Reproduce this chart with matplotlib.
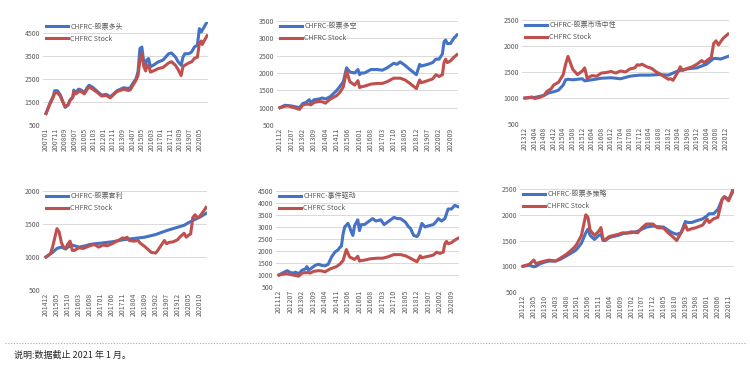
"""Six CHFRC hedge-fund index panels vs CHFRC Stock, 2x3 grid, with a note at the bottom."""

import matplotlib

matplotlib.use("Agg")
import matplotlib.pyplot as plt
from matplotlib.lines import Line2D

plt.rcParams["font.family"] = ["Noto Sans CJK SC", "DejaVu Sans"]

BLUE = "#4472C4"
RED = "#C0504D"
GRID = "#D9D9D9"
TEXT = "#595959"

# ---- panel 1: 股票多头, monthly from 200701 (months are offsets from the start) ----
long_start = "200701"
long_n = 169
long_ticks = ["200701", "200711", "200809", "200907", "201005", "201103", "201201", "201211",
              "201309", "201407", "201505", "201603", "201701", "201711", "201809", "201907", "202005"]
long_months = [0, 4, 8, 9, 12, 15, 17, 20, 23, 25, 28, 29, 31, 34, 37, 40, 43, 45, 49, 54, 58,
               63, 67, 70, 74, 77, 81, 86, 88, 91, 94, 96, 98, 100, 102, 104, 105, 107, 109,
               112, 117, 122, 128, 131, 135, 138, 141, 143, 145, 149, 152, 155, 158, 160, 162,
               163, 165, 168]
long_fund = [1000, 1440, 1800, 1990, 1990, 1800, 1580, 1265, 1370, 1580, 1730, 2015, 1900,
             2060, 2015, 1900, 2130, 2230, 2130, 1944, 1800, 1830, 1730, 1830, 1990, 2045, 2117,
             2090, 2130, 2330, 2520, 2810, 3820, 3890, 3240, 3100, 3320, 3390, 3030, 3100, 3240,
             3320, 3600, 3630, 3460, 3240, 3100, 3460, 3600, 3600, 3680, 3900, 3970, 4690, 4540,
             4620, 4760, 4980]
long_stock = [1000, 1400, 1750, 1900, 1900, 1750, 1550, 1300, 1380, 1560, 1700, 1950, 1850,
              1950, 1950, 1850, 2050, 2150, 2050, 1900, 1760, 1780, 1680, 1800, 1950, 2000, 2050,
              2000, 2030, 2250, 2450, 2650, 3300, 3600, 3050, 2850, 3050, 3100, 2800, 2850, 2950,
              3000, 3200, 3250, 3100, 2900, 2650, 3050, 3100, 3200, 3250, 3400, 3450, 4050, 4150,
              4000, 4150, 4380]

# ---- panel 2 and 5: 股票多空 / 事件驱动, monthly from 201112 ----
ls_start = "201112"
ls_n = 110
ls_ticks = ["201112", "201207", "201302", "201309", "201404", "201411", "201506", "201601",
            "201608", "201703", "201710", "201805", "201812", "201907", "202002", "202009"]
ls_months = [0, 3, 5, 7, 10, 12, 14, 16, 18, 19, 21, 24, 26, 28, 31, 35, 37, 39, 41, 43, 46,
             48, 49, 50, 52, 56, 60, 63, 66, 70, 72, 74, 77, 80, 84, 86, 87, 91, 94, 96, 98,
             100, 101, 102, 103, 105, 107, 109]
ls_fund = [1000, 1070, 1060, 1050, 1020, 1000, 1120, 1150, 1230, 1150, 1230, 1250, 1280, 1250,
           1320, 1500, 1620, 1750, 2150, 2030, 2000, 2100, 1950, 2000, 2000, 2100, 2100, 2080,
           2150, 2280, 2250, 2320, 2220, 2100, 1950, 2250, 2200, 2250, 2300, 2400, 2400, 2550,
           2900, 2950, 2850, 2850, 3000, 3100]
stock_2011 = [1000, 1040, 1050, 1020, 980, 950, 1080, 1100, 1100, 1080, 1150, 1180, 1170, 1130,
              1250, 1350, 1450, 1600, 2060, 1750, 1650, 1780, 1580, 1600, 1620, 1680, 1700, 1700,
              1750, 1850, 1850, 1850, 1800, 1700, 1550, 1800, 1720, 1780, 1830, 1950, 1900, 1950,
              2300, 2400, 2300, 2350, 2450, 2530]

ed_months = [0, 2, 5, 7, 9, 10, 12, 14, 16, 17, 18, 20, 22, 24, 26, 28, 30, 32, 34, 36, 37, 38,
             39, 40, 42, 43, 44, 45, 46, 48, 49, 50, 52, 55, 57, 59, 62, 64, 66, 70, 72, 74, 77,
             79, 80, 82, 84, 85, 87, 89, 91, 94, 96, 97, 99, 101, 103, 105, 107, 109]
ed_fund = [1000, 1080, 1180, 1100, 1080, 1120, 1050, 1200, 1250, 1350, 1200, 1300, 1400, 1450,
           1400, 1380, 1450, 1750, 1950, 2050, 2150, 2200, 2700, 3000, 3150, 3000, 2800, 2650,
           3050, 3300, 2850, 3100, 3100, 3250, 3350, 3250, 3300, 3100, 3200, 3400, 3350, 3350,
           3200, 3000, 2950, 2650, 2600, 2700, 3150, 3000, 3050, 3100, 3250, 3350, 3250, 3350,
           3750, 3750, 3900, 3850]

# ---- panel 3: 股票市场中性, monthly from 201312 ----
mn_start = "201312"
mn_n = 86
mn_ticks = ["201312", "201404", "201408", "201412", "201504", "201508", "201512", "201604",
            "201608", "201612", "201704", "201708", "201712", "201804", "201808", "201812",
            "201904", "201908", "201912", "202004", "202008", "202012"]
mn_fund_months = [0, 4, 8, 10, 12, 14, 16, 17, 18, 20, 24, 25, 28, 32, 36, 40, 44, 48, 52, 56,
                  60, 64, 68, 72, 76, 79, 80, 82, 85]
mn_fund = [1000, 1010, 1050, 1100, 1120, 1150, 1250, 1350, 1360, 1350, 1370, 1330, 1350, 1380,
           1390, 1370, 1420, 1440, 1440, 1450, 1440, 1520, 1560, 1580, 1650, 1760, 1760, 1750,
           1800]
mn_stock_months = [0, 3, 4, 6, 8, 9, 11, 12, 14, 16, 17, 18, 20, 22, 24, 25, 26, 28, 30, 32,
                   34, 36, 38, 40, 42, 44, 46, 47, 48, 49, 51, 53, 55, 57, 60, 61, 62, 64, 65,
                   66, 68, 70, 72, 74, 75, 77, 78, 79, 80, 81, 83, 85]
mn_stock = [1000, 1020, 990, 1010, 1050, 1120, 1180, 1250, 1300, 1450, 1650, 1800, 1550, 1450,
            1520, 1580, 1380, 1430, 1420, 1480, 1490, 1510, 1480, 1520, 1500, 1560, 1580, 1640,
            1630, 1650, 1600, 1570, 1500, 1450, 1360, 1370, 1340, 1500, 1600, 1530, 1570, 1600,
            1650, 1720, 1680, 1750, 1780, 2050, 2100, 2020, 2150, 2230]

# ---- panel 4: 股票套利, monthly from 201412 ----
arb_start = "201412"
arb_n = 74
arb_ticks = ["201412", "201505", "201510", "201603", "201608", "201701", "201706", "201711",
             "201804", "201809", "201902", "201907", "201912", "202005", "202010"]
arb_fund_months = [0, 3, 5, 7, 9, 10, 12, 15, 18, 20, 22, 25, 30, 35, 40, 45, 50, 55, 60, 63,
                   65, 68, 70, 73]
arb_fund = [1000, 1070, 1130, 1150, 1120, 1150, 1180, 1150, 1170, 1190, 1200, 1210, 1230, 1260,
            1280, 1300, 1340, 1400, 1450, 1480, 1520, 1570, 1600, 1660]
arb_stock_months = [0, 2, 3, 5, 6, 7, 8, 9, 10, 11, 12, 13, 15, 17, 20, 22, 24, 26, 28, 30, 33,
                    35, 36, 37, 38, 40, 42, 43, 45, 47, 48, 50, 51, 54, 55, 56, 58, 60, 61, 63,
                    64, 65, 66, 67, 68, 69, 70, 72, 73]
arb_stock = [1000, 1050, 1150, 1430, 1380, 1220, 1150, 1130, 1200, 1240, 1100, 1100, 1140, 1130,
             1170, 1190, 1150, 1180, 1170, 1200, 1250, 1290, 1280, 1300, 1250, 1240, 1250, 1210,
             1160, 1100, 1070, 1060, 1100, 1250, 1200, 1220, 1230, 1260, 1300, 1360, 1300, 1330,
             1350, 1600, 1640, 1600, 1610, 1700, 1750]

# ---- panel 6: 股票多策略, monthly from 201212 ----
ms_start = "201212"
ms_n = 98
ms_ticks = ["201212", "201305", "201310", "201403", "201408", "201501", "201506", "201511",
            "201604", "201609", "201702", "201707", "201712", "201805", "201810", "201903",
            "201908", "202001", "202006", "202011"]
ms_months = [0, 3, 5, 6, 8, 10, 12, 15, 17, 20, 22, 24, 25, 27, 28, 29, 30, 31, 33, 35, 36, 37,
             38, 40, 42, 44, 46, 48, 50, 53, 55, 57, 60, 62, 65, 67, 69, 71, 73, 75, 76, 78,
             80, 83, 85, 86, 88, 90, 92, 93, 95, 97]
ms_fund = [1000, 1020, 990, 1000, 1050, 1080, 1100, 1100, 1130, 1200, 1250, 1300, 1340, 1450,
           1550, 1650, 1720, 1600, 1520, 1600, 1620, 1500, 1500, 1560, 1580, 1600, 1630, 1650,
           1650, 1680, 1720, 1760, 1780, 1770, 1760, 1700, 1650, 1620, 1650, 1870, 1850, 1850,
           1880, 1920, 1980, 2020, 2020, 2100, 2300, 2350, 2300, 2450]
ms_stock = [1000, 1040, 1120, 1050, 1080, 1100, 1120, 1100, 1150, 1230, 1300, 1380, 1440, 1600,
            1800, 2000, 1950, 1700, 1600, 1680, 1750, 1520, 1520, 1580, 1600, 1620, 1650, 1640,
            1670, 1650, 1750, 1820, 1820, 1750, 1740, 1650, 1580, 1500, 1650, 1800, 1700, 1730,
            1750, 1800, 1920, 1850, 1920, 1950, 2300, 2350, 2270, 2500]

note = "说明:数据截止 2021 年 1 月。"

W, H = 750, 366


def month_offset(label, start):
    return (int(label[:4]) - int(start[:4])) * 12 + int(label[4:]) - int(start[4:])


# title, start, n, ticks, yticks, ylim, (fund months, fund), (stock months, stock),
# pixel box (data x0, data x1, y of ylim top, y of ylim bottom)
panels = [
    ("CHFRC-股票多头", long_start, long_n, long_ticks, range(500, 5000, 1000), (500, 5000),
     (long_months, long_fund), (long_months, long_stock), (46, 207, 21.5, 125)),
    ("CHFRC-股票多空", ls_start, ls_n, ls_ticks, range(500, 4000, 500), (500, 3500),
     (ls_months, ls_fund), (ls_months, stock_2011), (280, 457, 21, 125)),
    ("CHFRC-股票市场中性", mn_start, mn_n, mn_ticks, range(500, 3000, 500), (500, 2500),
     (mn_fund_months, mn_fund), (mn_stock_months, mn_stock), (525, 728, 20, 124)),
    ("CHFRC-股票套利", arb_start, arb_n, arb_ticks, range(500, 2500, 500), (500, 2000),
     (arb_fund_months, arb_fund), (arb_stock_months, arb_stock), (46, 206, 191, 290)),
    ("CHFRC-事件驱动", ls_start, ls_n, ls_ticks, range(500, 5000, 500), (500, 4500),
     (ed_months, ed_fund), (ls_months, stock_2011), (279, 458, 191, 287)),
    ("CHFRC-股票多策略", ms_start, ms_n, ms_ticks, range(500, 3000, 500), (500, 2500),
     (ms_months, ms_fund), (ms_months, ms_stock), (523, 733, 189, 292)),
]

fig = plt.figure(figsize=(W / 100, H / 100), dpi=100)

for title, start, n, ticks, yticks, ylim, fund, stock, (x0, x1, ytop, ybot) in panels:
    left_pad, right_pad = 3, 1
    ax = fig.add_axes([(x0 - left_pad) / W, 1 - ybot / H,
                       (x1 - x0 + left_pad + right_pad) / W, (ybot - ytop) / H])
    per_px = (n - 1) / (x1 - x0)
    ax.set_xlim(-left_pad * per_px, n - 1 + right_pad * per_px)
    ax.set_ylim(*ylim)

    ax.plot(fund[0], fund[1], color=BLUE, lw=2.2, solid_joinstyle="round")
    ax.plot(stock[0], stock[1], color=RED, lw=2.2, solid_joinstyle="round")

    ax.set_yticks(list(yticks))
    ax.set_xticks([month_offset(t, start) for t in ticks])
    ax.set_xticklabels(ticks, rotation=90)
    ax.tick_params(length=0, labelsize=5, colors=TEXT, pad=2)
    ax.grid(axis="y", color=GRID, lw=0.7)
    ax.set_axisbelow(True)
    for s in ax.spines.values():
        s.set_visible(False)

    handles = [Line2D([], [], color=BLUE, lw=2.2), Line2D([], [], color=RED, lw=2.2)]
    ax.legend(handles, [title, "CHFRC Stock"], loc="upper left",
              bbox_to_anchor=(left_pad / (x1 - x0 + 4), 1.0 - 1.0 / (ybot - ytop)),
              frameon=False, fontsize=5, handlelength=3.2, handletextpad=0.3,
              labelspacing=0.6, borderpad=0, borderaxespad=0, labelcolor=TEXT)

# dotted separator and note
fig.add_artist(Line2D([5 / W, 745 / W], [1 - 343 / H, 1 - 343 / H], color="#8FAADC",
                      lw=0.8, ls=(0, (1, 1.5))))
fig.text(14 / W, 1 - 355 / H, note, fontsize=6.5, color="#262626", va="center", ha="left")

fig.savefig("out.png", dpi=100)
